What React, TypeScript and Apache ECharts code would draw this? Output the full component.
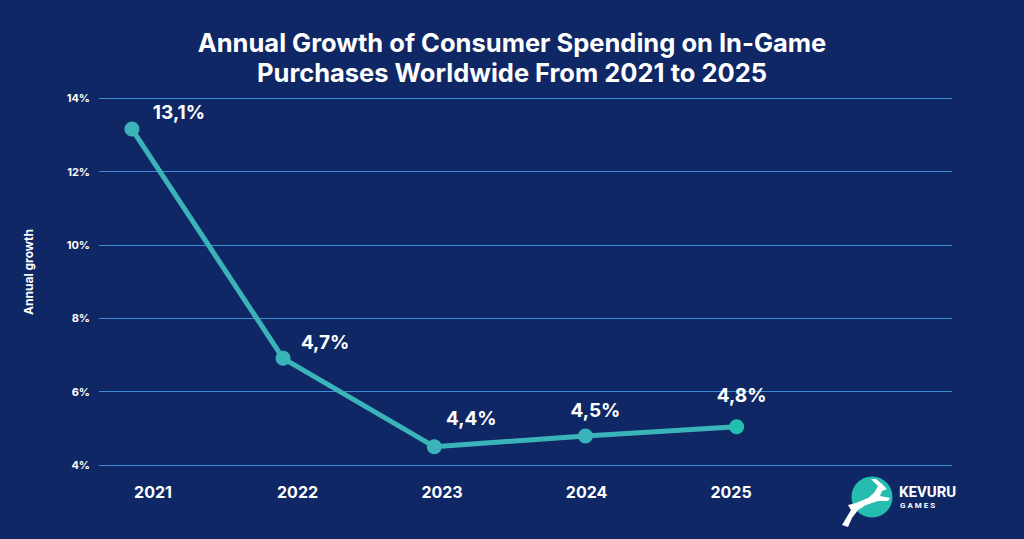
import React, { useEffect, useRef } from "react";
import * as echarts from "echarts";

const years = [2021, 2022, 2023, 2024, 2025];
const growth = [13.16, 6.91, 4.5, 4.79, 5.04];
const pointLabels = ["13,1%", "4,7%", "4,4%", "4,5%", "4,8%"];
const yTicks = [4, 6, 8, 10, 12, 14];

const labelOffsets = [
  [47, -17],
  [42, -16],
  [37, -28],
  [10, -26],
  [5, -31],
];

const BG = "#0f2865";
const TEAL = "#3ab4b9";
const GRID = "#3d8ed4";
const FONT = "Inter, 'Noto Sans', sans-serif";

const deerPath =
  "M842,525 L851,510 L848,505 L856,503 L868,498 L874,493 L878,486 L871,479 L876,479 L882,484 L887,489 L882,491 L880,496 L890,498 L888,501 L878,501 L866,505 L858,510 L852,518 L848,527 Z";

export default function App() {
  const ref = useRef<HTMLDivElement>(null);
  useEffect(() => {
    if (!ref.current) return;
    document.body.style.margin = "0";
    try {
      echarts.graphic.registerShape("deer", echarts.graphic.extendPath(deerPath, {}));
    } catch (e) {}
    const chart = echarts.init(ref.current, null, { renderer: "svg" });
    const data = years.map((y, i) => ({
      value: [y, growth[i]],
      itemStyle: i === years.length - 1 ? { color: "#22c0b0" } : undefined,
      label: {
        formatter: pointLabels[i],
        offset: labelOffsets[i],
      },
    }));
    chart.setOption({
      animation: false,
      backgroundColor: BG,
      title: {
        text: "Annual Growth of Consumer Spending on In-Game\nPurchases Worldwide From 2021 to 2025",
        left: "center",
        top: 22,
        textStyle: {
          color: "#ffffff",
          fontFamily: FONT,
          fontSize: 25.5,
          fontWeight: 700,
          lineHeight: 30,
          align: "center",
        },
      },
      grid: { left: 99, right: 72, top: 98.3, bottom: 74 },
      xAxis: [
        {
          type: "value",
          min: 2020.782,
          max: 2026.425,
          show: false,
        },
        {
          type: "value",
          min: 2020.626,
          max: 2026.529,
          position: "bottom",
          axisLine: { show: false },
          axisTick: { show: false },
          splitLine: { show: false },
          axisLabel: {
            customValues: years,
            formatter: (v: number) => String(v),
            color: "#ffffff",
            fontFamily: FONT,
            fontSize: 16,
            fontWeight: 700,
            margin: 19,
          },
        },
      ],
      yAxis: {
        type: "value",
        min: yTicks[0],
        max: yTicks[yTicks.length - 1],
        interval: 2,
        axisLine: { show: false },
        axisTick: { show: false },
        axisLabel: {
          formatter: "{value}%",
          color: "#ffffff",
          fontFamily: FONT,
          fontSize: 11,
          fontWeight: 700,
          margin: 9,
        },
        splitLine: { lineStyle: { color: GRID, width: 1 } },
      },
      series: [
        {
          type: "line",
          xAxisIndex: 0,
          data,
          symbol: "circle",
          symbolSize: 15,
          lineStyle: { color: TEAL, width: 5 },
          itemStyle: { color: TEAL },
          label: {
            show: true,
            position: "inside",
            align: "center",
            verticalAlign: "middle",
            color: "#ffffff",
            fontFamily: FONT,
            fontSize: 19,
            fontWeight: 700,
          },
        },
      ],
      graphic: [
        {
          type: "text",
          x: 28,
          y: 272,
          rotation: Math.PI / 2,
          style: {
            text: "Annual growth",
            fill: "#ffffff",
            font: `700 12px ${FONT}`,
            align: "center",
            verticalAlign: "middle",
          },
        },
        {
          type: "circle",
          shape: { cx: 872, cy: 497, r: 20.5 },
          style: { fill: "#24bdb0" },
        },
        {
          type: "deer",
          x: 0,
          y: 0,
          style: { fill: "#ffffff" },
        },
        {
          type: "text",
          x: 899,
          y: 492,
          style: {
            text: "KEVURU",
            fill: "#ffffff",
            font: `700 15px 'Roboto', 'DejaVu Sans Condensed', sans-serif`,
            verticalAlign: "middle",
          },
        },
        {
          type: "text",
          x: 900,
          y: 505,
          style: {
            text: "G A M E S",
            fill: "#ffffff",
            font: `700 8px 'Roboto', sans-serif`,
            verticalAlign: "middle",
          },
        },
      ],
    });
    return () => chart.dispose();
  }, []);
  return (
    <div
      ref={ref}
      style={{ position: "fixed", left: 0, top: 0, width: 1024, height: 539 }}
    />
  );
}
